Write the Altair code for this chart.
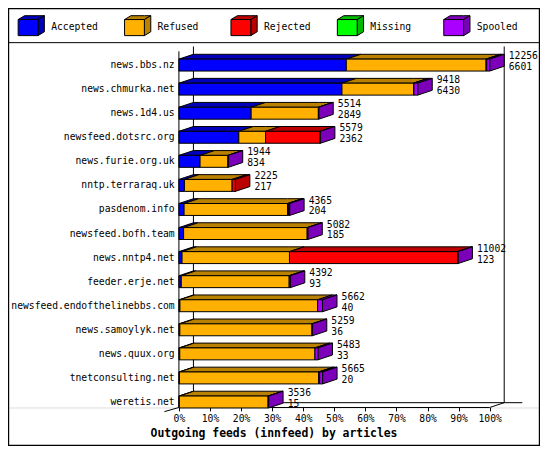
import altair as alt
import pandas as pd
import numpy as np

# ---------------- data ----------------
hosts = ["news.bbs.nz", "news.chmurka.net", "news.1d4.us", "newsfeed.dotsrc.org",
         "news.furie.org.uk", "nntp.terraraq.uk", "pasdenom.info", "newsfeed.bofh.team",
         "news.nntp4.net", "feeder.erje.net", "newsfeed.endofthelinebbs.com",
         "news.samoylyk.net", "news.quux.org", "tnetconsulting.net", "weretis.net"]
offered = [12256, 9418, 5514, 5579, 1944, 2225, 4365, 5082, 11002, 4392, 5662, 5259, 5483, 5665, 3536]
accepted = [6601, 6430, 2849, 2362, 834, 217, 204, 185, 123, 93, 40, 36, 33, 20, 15]
refused = [5512, 2823, 2650, 1055, 1100, 1881, 4079, 4873, 4237, 4255, 5430, 5213, 5330, 5490, 3501]
rejected = [25, 15, 0, 2151, 0, 127, 40, 0, 6632, 0, 0, 0, 0, 40, 0]
missing = [0, 0, 0, 0, 0, 0, 0, 0, 0, 0, 0, 0, 0, 0, 0]
spooled = [118, 150, 15, 11, 10, 0, 42, 24, 10, 44, 192, 10, 120, 115, 20]

series = ["Accepted", "Refused", "Rejected", "Missing", "Spooled"]
front_colors = ["#0000FF", "#FFB000", "#FF0000", "#00FF00", "#AA00FF"]
shade_colors = ["#0000BA", "#BA8000", "#BA0000", "#00BA00", "#7C00BA"]
tick_values = [0, 10, 20, 30, 40, 50, 60, 70, 80, 90, 100]
title_text = "Outgoing feeds (innfeed) by articles"

FONT = "DejaVu Sans Mono"

# ---------------- layout (reference pixel geometry) ----------------
REF_W, REF_H = 550, 455
W, H = 532, 438
SX, SY = W / REF_W, H / REF_H
BASE_REF = 415.0                      # y of the x-axis baseline in the reference
VIEW_H = BASE_REF * SY
PAD_B = H - VIEW_H
X0_REF, PX_PER_PCT = 176.7, 3.213
ROW0_REF, ROW_STEP = 59.3, 25.0


def pct(xr):
    return (xr - X0_REF) / PX_PER_PCT


def rowu(yr):
    return (yr - ROW0_REF) / ROW_STEP


DX = 15 / PX_PER_PCT
DY = 5 / ROW_STEP
HALF = 6.2 / ROW_STEP

xscale = alt.Scale(domain=[pct(0), pct(REF_W)], nice=False, zero=False)
yscale = alt.Scale(domain=[rowu(0), rowu(BASE_REF)], nice=False, zero=False, reverse=True)

front, tops, sides = [], [], []


def add_box(seg, x0, x1, yt, yb, ddx, ddy, fcol, scol, with_side):
    front.append(dict(seg=seg, x=x0, x2=x1, y=yt, y2=yb, fill=fcol))
    xs = np.unique(np.array([x0, x1, x0 + ddx, x1 + ddx]))
    yB = np.interp(xs, [x0, x1, x1 + ddx], [yt, yt, yt - ddy])
    yT = np.interp(xs, [x0, x0 + ddx, x1 + ddx], [yt, yt - ddy, yt - ddy])
    for a, b, c in zip(xs, yB, yT):
        tops.append(dict(seg=seg, x=a, y=b, y2=c, fill=scol))
    if with_side:
        sides.append(dict(seg=seg, x=x1, y=yt, y2=yb, fill=scol))
        sides.append(dict(seg=seg, x=x1 + ddx, y=yt - ddy, y2=yb - ddy, fill=scol))


max_total = max(offered)
vals = [accepted, refused, rejected, missing, spooled]
for i, h in enumerate(hosts):
    cum = 0.0
    segs = [(k, vals[k][i]) for k in range(5) if vals[k][i] > 0]
    for j, (k, v) in enumerate(segs):
        x0 = cum / max_total * 100
        cum += v
        x1 = cum / max_total * 100
        add_box(f"r{i}s{k}", x0, x1, i - HALF, i + HALF, DX, DY,
                front_colors[k], shade_colors[k], j == len(segs) - 1)

# legend boxes
LDX, LDY = 6.6 / PX_PER_PCT, 4 / ROW_STEP
legend_text = []
for k, s in enumerate(series):
    add_box(f"leg{k}", pct(10.5 + 110 * k), pct(31 + 110 * k), rowu(12), rowu(28.7),
            LDX, LDY, front_colors[k], shade_colors[k], True)
    legend_text.append(dict(x=pct(44.6 + 110 * k), y=rowu(19.7), text=s))

front_df = pd.DataFrame(front)
tops_df = pd.DataFrame(tops)
sides_df = pd.DataFrame(sides)

labels_df = pd.DataFrame(dict(
    host=hosts, y=list(range(len(hosts))),
    xe=[o / max_total * 100 for o in offered],
    offered=[str(o) for o in offered], accepted=[str(a) for a in accepted]))

frame_df = pd.DataFrame([
    dict(x=0, x2=0, y=rowu(45), y2=rowu(415)),
    dict(x=DX, x2=DX, y=rowu(40), y2=rowu(410)),
    dict(x=100 + DX, x2=100 + DX, y=rowu(40), y2=rowu(410)),
    dict(x=DX, x2=pct(531.7), y=rowu(410), y2=rowu(410)),
    dict(x=0, x2=100, y=rowu(415), y2=rowu(415)),
    dict(x=100, x2=100 + DX, y=rowu(415), y2=rowu(410)),
    dict(x=0, x2=DX, y=rowu(415), y2=rowu(410)),
    dict(x=0, x2=-DX, y=rowu(415), y2=rowu(419.3)),
    dict(x=pct(0), x2=pct(REF_W), y=rowu(36), y2=rowu(36)),
])

xaxis = alt.Axis(values=tick_values, labelExpr="datum.value + '%'", domain=False, grid=False,
                 ticks=True, tickSize=3.4, tickColor="black", tickWidth=1,
                 labelFont=FONT, labelFontSize=9.7, labelColor="black", labelPadding=3,
                 labelOverlap=False, labelFlush=False, zindex=2,
                 title=title_text, titleX=274.5 * SX, titleY=(442 - BASE_REF) * SY,
                 titleAlign="center", titleBaseline="middle", titleFont=FONT,
                 titleFontSize=11.4, titleFontWeight="bold", titleColor="black")

XA = dict(scale=xscale, axis=xaxis)
YA = dict(scale=yscale, axis=None)

border = alt.Chart(pd.DataFrame({"k": [0]})).mark_rect(
    fill="transparent", stroke="black", strokeWidth=1.2).encode(
    x=alt.value(0.6), x2=alt.value(W - 0.6), y=alt.value(0.6), y2=alt.value(H - 0.6))

frame = alt.Chart(frame_df).mark_rule(color="black", strokeWidth=1).encode(
    x=alt.X("x:Q", **XA), x2="x2:Q", y=alt.Y("y:Q", **YA), y2="y2:Q")

top_layer = alt.Chart(tops_df).mark_area(
    stroke="black", strokeWidth=1, orient="vertical", interpolate="linear").encode(
    x=alt.X("x:Q", **XA), y=alt.Y("y:Q", stack=None, **YA), y2="y2:Q",
    fill=alt.Fill("fill:N", scale=None), detail="seg:N")

side_layer = alt.Chart(sides_df).mark_area(
    stroke="black", strokeWidth=1, orient="vertical", interpolate="linear").encode(
    x=alt.X("x:Q", **XA), y=alt.Y("y:Q", stack=None, **YA), y2="y2:Q",
    fill=alt.Fill("fill:N", scale=None), detail="seg:N")

front_layer = alt.Chart(front_df).mark_rect(stroke="black", strokeWidth=1).encode(
    x=alt.X("x:Q", **XA), x2="x2:Q",
    y=alt.Y("y:Q", **YA), y2="y2:Q", fill=alt.Fill("fill:N", scale=None))

txt = dict(font=FONT, fontSize=9.7, color="black", baseline="middle")

cat_labels = alt.Chart(labels_df).mark_text(align="right", dx=-4.4 * SX, **txt).encode(
    x=alt.value(X0_REF * SX), y=alt.Y("y:Q", **YA), text="host:N")

tot_labels = alt.Chart(labels_df).mark_text(align="left", dx=19.7 * SX, dy=-9.3 * SY, **txt).encode(
    x=alt.X("xe:Q", **XA), y=alt.Y("y:Q", **YA), text="offered:N")

acc_labels = alt.Chart(labels_df).mark_text(align="left", dx=19.7 * SX, dy=2.0 * SY, **txt).encode(
    x=alt.X("xe:Q", **XA), y=alt.Y("y:Q", **YA), text="accepted:N")

leg_labels = alt.Chart(pd.DataFrame(legend_text)).mark_text(align="left", **txt).encode(
    x=alt.X("x:Q", **XA), y=alt.Y("y:Q", **YA), text="text:N")

chart = alt.layer(
    border, frame, top_layer, side_layer, front_layer, cat_labels, tot_labels, acc_labels, leg_labels
).properties(
    width=W, height=VIEW_H, autosize=alt.AutoSizeParams(type="none"),
    padding={"left": 0, "top": 0, "right": 0, "bottom": PAD_B}
).configure_view(stroke="transparent").configure(background="white")

chart.save("out.html", embed_options={"renderer": "svg", "actions": False})
